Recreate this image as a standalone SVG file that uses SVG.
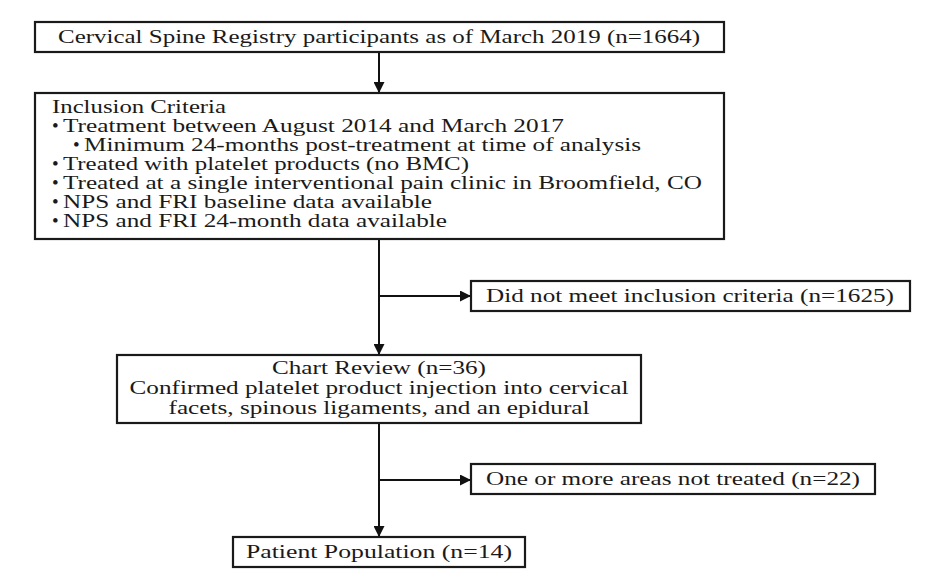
<svg xmlns="http://www.w3.org/2000/svg" width="933" height="585" viewBox="0 0 933 585">
<defs>
<marker id="ah" markerWidth="11" markerHeight="11" refX="10" refY="5.5" orient="auto" markerUnits="userSpaceOnUse">
<path d="M0,0 L11,5.5 L0,11 Z" fill="#111"/>
</marker>
<style>
.box{fill:#fff;stroke:#1a1a1a;stroke-width:2.2}
.t{font-family:"Liberation Serif","Times New Roman",serif;font-size:19px;fill:#1a1a1a}
.c{text-anchor:middle}
.ln{stroke:#111;stroke-width:2;fill:none}
</style>
</defs>
<rect width="933" height="585" fill="#fff"/>
<g id="connectors">
<line class="ln" x1="379" y1="52" x2="379" y2="92" marker-end="url(#ah)"/>
<line class="ln" x1="379" y1="239" x2="379" y2="354" marker-end="url(#ah)"/>
<line class="ln" x1="379" y1="296" x2="470" y2="296" marker-end="url(#ah)"/>
<line class="ln" x1="379" y1="423" x2="379" y2="536" marker-end="url(#ah)"/>
<line class="ln" x1="379" y1="480" x2="470" y2="480" marker-end="url(#ah)"/>
</g>
<g id="registry">
<rect class="box" x="35" y="22" width="689" height="30"/>
<text class="t" x="58" y="43" textLength="642" lengthAdjust="spacingAndGlyphs">Cervical Spine Registry participants as of March 2019 (n=1664)</text>
</g>
<g id="inclusion">
<rect class="box" x="35" y="93" width="689" height="146"/>
<text class="t" x="52" y="113" textLength="174" lengthAdjust="spacingAndGlyphs">Inclusion Criteria</text>
<text class="t" x="52" y="132">•</text>
<text class="t" x="63" y="132" textLength="501" lengthAdjust="spacingAndGlyphs">Treatment between August 2014 and March 2017</text>
<text class="t" x="73" y="151">•</text>
<text class="t" x="84" y="151" textLength="557" lengthAdjust="spacingAndGlyphs">Minimum 24-months post-treatment at time of analysis</text>
<text class="t" x="52" y="170">•</text>
<text class="t" x="63" y="170" textLength="406" lengthAdjust="spacingAndGlyphs">Treated with platelet products (no BMC)</text>
<text class="t" x="52" y="189">•</text>
<text class="t" x="63" y="189" textLength="639" lengthAdjust="spacingAndGlyphs">Treated at a single interventional pain clinic in Broomfield, CO</text>
<text class="t" x="52" y="208">•</text>
<text class="t" x="63" y="208" textLength="369" lengthAdjust="spacingAndGlyphs">NPS and FRI baseline data available</text>
<text class="t" x="52" y="227">•</text>
<text class="t" x="63" y="227" textLength="384" lengthAdjust="spacingAndGlyphs">NPS and FRI 24-month data available</text>
</g>
<g id="excluded1">
<rect class="box" x="471" y="281" width="439" height="30"/>
<text class="t c" x="690" y="302" textLength="408" lengthAdjust="spacingAndGlyphs">Did not meet inclusion criteria (n=1625)</text>
</g>
<g id="chartreview">
<rect class="box" x="117" y="355" width="524" height="68"/>
<text class="t c" x="379" y="374" textLength="214" lengthAdjust="spacingAndGlyphs">Chart Review (n=36)</text>
<text class="t c" x="379" y="394" textLength="499" lengthAdjust="spacingAndGlyphs">Confirmed platelet product injection into cervical</text>
<text class="t c" x="379" y="414" textLength="421" lengthAdjust="spacingAndGlyphs">facets, spinous ligaments, and an epidural</text>
</g>
<g id="excluded2">
<rect class="box" x="471" y="464" width="404" height="30"/>
<text class="t c" x="673" y="485" textLength="374" lengthAdjust="spacingAndGlyphs">One or more areas not treated (n=22)</text>
</g>
<g id="population">
<rect class="box" x="233" y="537" width="292" height="30"/>
<text class="t c" x="379" y="558" textLength="266" lengthAdjust="spacingAndGlyphs">Patient Population (n=14)</text>
</g>
</svg>
